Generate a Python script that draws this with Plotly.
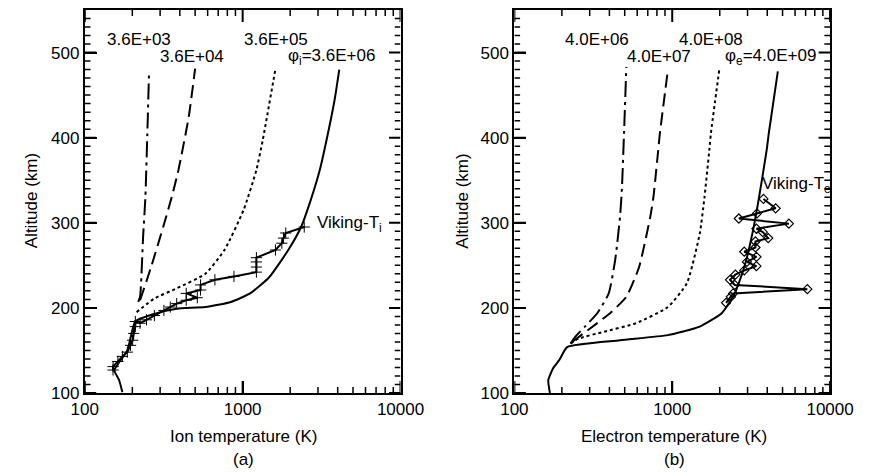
import math
import plotly.graph_objects as go

# ---------------- Panel (a): ion temperature ----------------
ion_36e03_T = [218, 224, 234, 242, 249, 255]
ion_36e03_alt = [207, 213, 283, 330, 405, 474]

ion_36e04_T = [224, 263, 316, 355, 392, 455, 500]
ion_36e04_alt = [209, 248, 297, 330, 362, 424, 481]

ion_36e05_T = [213, 276, 382, 580, 767, 1014, 1222, 1340, 1614]
ion_36e05_alt = [195, 211, 223, 240, 268, 315, 362, 397, 481]

ion_36e06_T = [173, 165, 154, 186, 209, 276, 382, 580, 842, 1114, 1473, 1945, 2345, 2692, 3080, 3397, 3820, 4093]
ion_36e06_alt = [101, 115, 127, 150, 184, 193, 199, 201, 207, 217, 236, 268, 295, 326, 362, 397, 444, 480]

viking_Ti_T = [151, 151, 162, 173, 186, 195, 201, 204, 209, 209, 224, 246, 276, 317, 348, 382, 439, 516,
               439, 541, 541, 667, 881, 1222, 1222, 1222, 1222, 1614, 1771, 1814, 1875, 2455]
viking_Ti_alt = [127, 131, 137, 143, 148, 156, 162, 170, 178, 184, 182, 186, 191, 197, 201, 205, 209, 212,
                 217, 221, 227, 233, 237, 242, 248, 254, 259, 268, 276, 282, 288, 295]

# ---------------- Panel (b): electron temperature ----------------
el_40e06_T = [227, 243, 280, 336, 396, 435, 467, 480, 495, 512]
el_40e06_alt = [158, 166, 178, 194, 217, 256, 307, 340, 405, 483]

el_40e07_T = [232, 293, 405, 512, 617, 726, 760, 815, 835, 938]
el_40e07_alt = [160, 174, 194, 213, 248, 307, 330, 385, 405, 479]

el_40e08_T = [227, 255, 370, 589, 938, 1239, 1493, 1601, 1717, 1758, 1990]
el_40e08_alt = [158, 164, 172, 182, 201, 229, 287, 330, 385, 405, 481]

el_40e09_T = [168, 164, 176, 193, 216, 467, 938, 1493, 2065, 2489, 2862, 3216, 3526, 3963, 4090, 4667]
el_40e09_alt = [100, 115, 129, 139, 154, 162, 168, 178, 194, 217, 248, 287, 327, 385, 405, 478]

viking_Te_T = [2194, 2352, 2432, 7178, 2489, 2323, 2513, 2860, 3415, 2973, 3415, 2860, 3365, 3365, 4055,
               3750, 3415, 5483, 2642, 3445, 4520, 3785]
viking_Te_alt = [206, 213, 217, 222, 227, 233, 239, 244, 249, 254, 260, 266, 271, 278, 282,
                 289, 293, 299, 305, 311, 317, 328]

# ---------------- axis ticks ----------------
x_tickvals = [100, 1000, 10000]
x_ticktext = ["100", "1000", "10000"]
x_minorvals = [200, 300, 400, 500, 600, 700, 800, 900, 2000, 3000, 4000, 5000, 6000, 7000, 8000, 9000]
y_tickvals = [100, 200, 300, 400, 500]
y_minorvals = [v for v in range(110, 550, 10) if v % 100 != 0]
X_RANGE_LOG = [2, 4]
Y_RANGE = [100, 550]

FONT = "Liberation Sans, Arial, Helvetica, sans-serif"
FS = 17
BLACK = "#000000"

W, H = 878, 473
ML, MR, MT, MB = 0, 0, 10, 80
PANEL_W = 330          # plot-area width in pixels
PANEL_H = H - MT - MB  # plot-area height in pixels

fig = go.Figure()

def line(x, y, dash, xa, ya, width=2):
    fig.add_trace(go.Scatter(x=x, y=y, mode="lines", xaxis=xa, yaxis=ya,
                             line=dict(color=BLACK, width=width, dash=dash, shape="spline", smoothing=0.5),
                             showlegend=False, hoverinfo="skip"))

DASHDOT = "16px,5px,3px,5px"
DASH = "13px,6px"
DOT = "3px,3px"

line(ion_36e03_T, ion_36e03_alt, DASHDOT, "x", "y")
line(ion_36e04_T, ion_36e04_alt, DASH, "x", "y")
line(ion_36e05_T, ion_36e05_alt, DOT, "x", "y")
line(ion_36e06_T, ion_36e06_alt, "solid", "x", "y")
fig.add_trace(go.Scatter(x=viking_Ti_T, y=viking_Ti_alt, mode="lines+markers", xaxis="x", yaxis="y",
                         line=dict(color=BLACK, width=2),
                         marker=dict(symbol="cross-thin", size=8, line=dict(color=BLACK, width=1)),
                         showlegend=False, hoverinfo="skip"))

line(el_40e06_T, el_40e06_alt, DASHDOT, "x2", "y2")
line(el_40e07_T, el_40e07_alt, DASH, "x2", "y2")
line(el_40e08_T, el_40e08_alt, DOT, "x2", "y2")
line(el_40e09_T, el_40e09_alt, "solid", "x2", "y2")
fig.add_trace(go.Scatter(x=viking_Te_T, y=viking_Te_alt, mode="lines+markers", xaxis="x2", yaxis="y2",
                         line=dict(color=BLACK, width=2),
                         marker=dict(symbol="diamond-open", size=7, color=BLACK, line=dict(color=BLACK, width=1.2)),
                         showlegend=False, hoverinfo="skip"))

# tick marks on all four sides, as thin line traces (major long, minor short)
y_per_px = (Y_RANGE[1] - Y_RANGE[0]) / PANEL_H
dec_per_px = (X_RANGE_LOG[1] - X_RANGE_LOG[0]) / PANEL_W
xlo, xhi = 10 ** X_RANGE_LOG[0], 10 ** X_RANGE_LOG[1]

def tick_trace(xa, ya, xvals, yvals, length_px, width):
    xs, ys = [], []
    dy = length_px * y_per_px
    fx = 10 ** (length_px * dec_per_px)
    for v in xvals:
        xs += [v, v, None, v, v, None]
        ys += [Y_RANGE[0], Y_RANGE[0] + dy, None, Y_RANGE[1], Y_RANGE[1] - dy, None]
    for v in yvals:
        xs += [xlo, xlo * fx, None, xhi, xhi / fx, None]
        ys += [v, v, None, v, v, None]
    fig.add_trace(go.Scatter(x=xs, y=ys, mode="lines", xaxis=xa, yaxis=ya,
                             line=dict(color=BLACK, width=width), connectgaps=False,
                             showlegend=False, hoverinfo="skip"))

for xa, ya in (("x", "y"), ("x2", "y2")):
    tick_trace(xa, ya, x_tickvals, y_tickvals, 12, 2)
    tick_trace(xa, ya, x_minorvals, y_minorvals, 6, 1.5)

xaxis_common = dict(type="log", range=X_RANGE_LOG, tickmode="array", tickvals=x_tickvals, ticktext=x_ticktext,
                    ticks="inside", ticklen=12, tickwidth=2, tickcolor=BLACK,
                    showline=True, linewidth=2, linecolor=BLACK, mirror=True,
                    showgrid=False, zeroline=False,
                    tickfont=dict(family=FONT, size=FS, color=BLACK))
yaxis_common = dict(range=Y_RANGE, tickmode="array", tickvals=y_tickvals,
                    ticktext=[str(v) for v in y_tickvals],
                    ticks="inside", ticklen=12, tickwidth=2, tickcolor=BLACK,
                    showline=True, linewidth=2, linecolor=BLACK, mirror=True,
                    showgrid=False, zeroline=False,
                    tickfont=dict(family=FONT, size=FS, color=BLACK))

fig.update_layout(
    width=W, height=H,
    margin=dict(l=ML, r=MR, t=MT, b=MB),
    paper_bgcolor="white", plot_bgcolor="white",
    font=dict(family=FONT, size=FS, color=BLACK),
    xaxis=dict(domain=[74 / W, 404 / W], anchor="y", **xaxis_common),
    yaxis=dict(domain=[0, 1], anchor="x", **yaxis_common),
    xaxis2=dict(domain=[523 / W, 853 / W], anchor="y2", **xaxis_common),
    yaxis2=dict(domain=[0, 1], anchor="x2", **yaxis_common),
)

def ann(text, x, y, xref, yref, xanchor="center", yanchor="middle", angle=0):
    fig.add_annotation(text=text, x=x, y=y, xref=xref, yref=yref, showarrow=False,
                       xanchor=xanchor, yanchor=yanchor, textangle=angle,
                       font=dict(family=FONT, size=FS, color=BLACK))

# curve labels (data coords; log axes use log10 for annotation x)
ann("3.6E+03", math.log10(221), 515, "x", "y")
ann("3.6E+04", math.log10(477), 495, "x", "y")
ann("3.6E+05", math.log10(1630), 515, "x", "y")
ann("φ<sub>i</sub>=3.6E+06", math.log10(3663), 495, "x", "y")
ann("Viking-T<sub>i</sub>", math.log10(2891), 298, "x", "y", xanchor="left")

ann("4.0E+06", math.log10(332), 515, "x2", "y2")
ann("4.0E+07", math.log10(822), 495, "x2", "y2")
ann("4.0E+08", math.log10(1771), 515, "x2", "y2")
ann("φ<sub>e</sub>=4.0E+09", math.log10(4207), 495, "x2", "y2")
ann("Viking-T<sub>e</sub>", math.log10(3614), 344, "x2", "y2", xanchor="left")

def py(pix):
    return (393 - pix) / PANEL_H

ann("Ion temperature (K)", 240 / W, py(436), "paper", "paper")
ann("Electron temperature (K)", 690 / W, py(436), "paper", "paper")
ann("(a)", 240 / W, py(459), "paper", "paper")
ann("(b)", 690 / W, py(459), "paper", "paper")
ann("Altitude (km)", 18 / W, py(201), "paper", "paper", angle=-90)
ann("Altitude (km)", 468 / W, py(201), "paper", "paper", angle=-90)

fig.write_html("out.html")
